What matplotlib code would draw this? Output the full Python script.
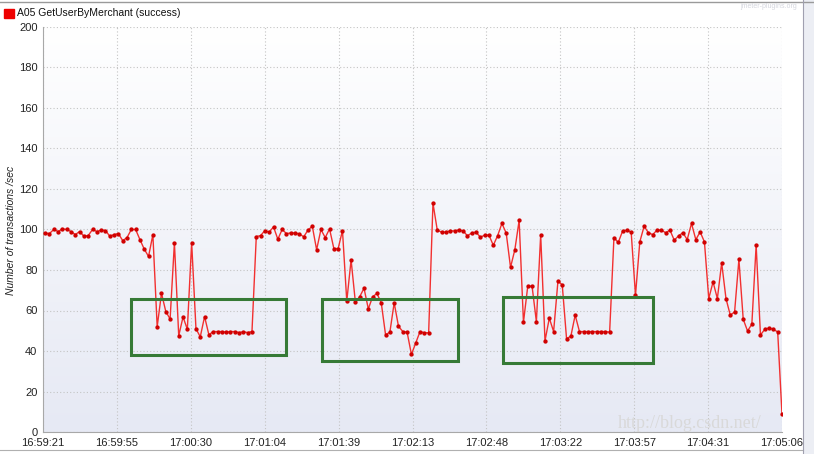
import matplotlib.pyplot as plt
import numpy as np
from matplotlib.colors import LinearSegmentedColormap
from matplotlib.patches import Rectangle
from matplotlib.lines import Line2D

plt.rcParams['font.family'] = ['Liberation Sans', 'DejaVu Sans']

# transactions per second, one sample roughly every 2 s
tps = [98.2, 98, 100, 99, 100.3, 100, 99, 97.5, 99, 96.7,
       97, 100, 99, 99.7, 99.5, 96.7, 97.5, 98, 94.5, 96,
       100, 100, 95, 90.3, 86.7, 97.5, 52, 68.5, 59.5, 55.8,
       93.5, 47.5, 56.8, 50.7, 93.5, 51,
       47, 57, 48,
       49.6, 49.6, 49.6, 49.3, 49.6, 49.6, 49.1, 49.5, 49.1, 49.6,
       96.5, 97, 99.5, 98.7, 101.3, 95.2, 100, 98, 98.3, 98.3, 97.8, 96.4,
       99.7, 101.6, 90, 100, 96, 100.3, 90.6, 90.6, 99.5, 64.6, 85, 64,
       66.8, 71, 60.8, 66.8, 68.4, 63.8, 48, 49.3, 63.8, 52.2, 49.6, 49.3,
       38.3, 44, 49.6, 49, 49,
       113, 99.7, 98.7, 98.7, 99.3, 99.3, 99.7, 99.3, 96.9, 98.3, 98.7, 96.2,
       97.2, 97.2, 92.2, 96.9, 103,
       98.2, 81.3, 90, 104.5, 54.2, 72, 72, 54.5, 97.4, 45, 56.2, 49.6,
       74.4, 72.7, 46.1, 47.3, 57.7,
       49.6, 49.6, 49.6, 49.6, 49.6, 49.6, 49.6, 49.3,
       96, 93.6, 99.2, 99.7, 98.7, 67.5, 93.9, 101.6, 98.4, 97.5, 99.7, 99.7,
       98.4, 99.7, 94.7, 96.9, 98.4, 95, 103, 95, 98.8, 93.9, 65.9, 74.1,
       65.9, 83.5, 65.9, 57.7, 59.3, 85.2, 55.7, 49.9, 53.2, 92.3, 47.9, 50.7,
       51.4, 50.7, 49.4, 8.7]

# seconds after 16:59:21 of first and last sample
t_first, t_last = 1.0, 345.0
tick_labels = ['16:59:21', '16:59:55', '17:00:30', '17:01:04', '17:01:39', '17:02:13',
               '17:02:48', '17:03:22', '17:03:57', '17:04:31', '17:05:06']
tick_step = 34.5

# highlighted regions: (x0, x1, y0, y1) in seconds / tps
boxes = [(41.3, 113.5, 37.9, 65.9),
         (130.3, 193.6, 34.9, 65.9),
         (214.6, 284.6, 34.3, 66.8)]

t = np.linspace(t_first, t_last, len(tps))

fig = plt.figure(figsize=(8.14, 4.54), dpi=100)
ax = fig.add_axes([43/814, 22/454, 739/814, 405/454])

# background gradient
cmap = LinearSegmentedColormap.from_list('bg', ['#e6e9f4', '#ffffff'])
grad = np.linspace(0, 1, 256).reshape(-1, 1)
ax.imshow(grad, extent=[0, 345, 0, 200], origin='lower', aspect='auto',
          cmap=cmap, zorder=0)

ax.plot(t, tps, color='#f23030', lw=1, marker='o', markersize=2.1,
        markerfacecolor='#d00000', markeredgecolor='#d00000', zorder=3)

for x0, x1, y0, y1 in boxes:
    ax.add_patch(Rectangle((x0, y0), x1 - x0, y1 - y0, fill=False,
                           edgecolor='#367a36', lw=2.2, zorder=4))

ax.set_xlim(0, 345)
ax.set_ylim(0, 200)
ax.set_xticks(np.arange(len(tick_labels)) * tick_step)
ax.set_xticklabels(tick_labels)
ax.set_yticks(np.arange(0, 201, 20))
ax.tick_params(length=0, labelsize=8, labelcolor='#222222')
ax.tick_params(axis='x', pad=4)
ax.tick_params(axis='y', pad=4)
ax.grid(color='#c4c4c4', linestyle=(0, (1, 2)), lw=0.8)
for s in ['top', 'right']:
    ax.spines[s].set_visible(False)
for s in ['left', 'bottom']:
    ax.spines[s].set_color('#a8a8a8')
    ax.spines[s].set_linewidth(0.8)

fig.text(11/814, 1 - 230/454, 'Number of transactions /sec', rotation=90,
         style='italic', fontsize=7.5, ha='center', va='center', color='#222222')

# legend
fig.patches.append(Rectangle((4/814, 1 - 18/454), 10/814, 9/454,
                             transform=fig.transFigure, color='#ee0000'))
fig.text(17/814, 1 - 13.5/454, 'A05 GetUserByMerchant (success)', fontsize=7.5,
         va='center', color='#111111')

fig.text(797/814, 1 - 7/454, 'jmeter-plugins.org', fontsize=5, ha='right',
         va='center', color='#d4d6de')
fig.text(690/814, 1 - 423/454, 'http://blog.csdn.net/', fontsize=13,
         family='Liberation Serif', ha='center', va='center', color='#d9d9d9',
         zorder=0)

# window frame
fig.lines.append(Line2D([0, 1], [1 - 1.5/454] * 2, transform=fig.transFigure,
                        color='#9a9a9a', lw=1))
fig.lines.append(Line2D([0, 803/814], [1 - 450/454] * 2, transform=fig.transFigure,
                        color='#b0b0b0', lw=0.8))
fig.lines.append(Line2D([803/814] * 2, [0, 1], transform=fig.transFigure,
                        color='#a0a0b0', lw=0.8))
fig.patches.append(Rectangle((804/814, 0), 10/814, 1, transform=fig.transFigure,
                             color='#eceef4'))

fig.savefig('out.png', dpi=100)
